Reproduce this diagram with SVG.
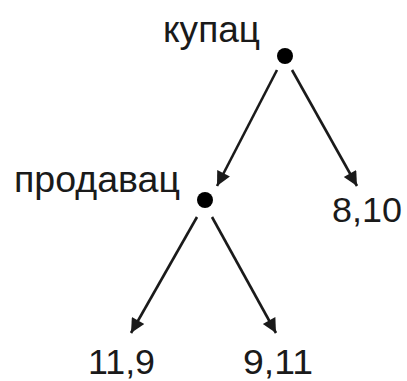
<svg xmlns="http://www.w3.org/2000/svg" width="407" height="381" viewBox="0 0 407 381">
<style>
.t{font-family:"Liberation Sans",Arial,sans-serif;font-size:37px;fill:#1a1a1a}
.n{font-size:35px}
.e{stroke:#1a1a1a;stroke-width:2.6;fill:none;marker-end:url(#ah)}
.d{fill:#000}
</style>
<defs>
<marker id="ah" viewBox="0 0 10 10" refX="10" refY="5" markerWidth="7.5" markerHeight="5.5" markerUnits="strokeWidth" orient="auto">
<path d="M0,0 L10,5 L0,10 z" fill="#1a1a1a"/>
</marker>
</defs>
<rect width="407" height="381" fill="#fff"/>
<g id="connectors">
<line class="e" x1="277" y1="70" x2="217" y2="186"/>
<line class="e" x1="292" y1="70" x2="357" y2="186"/>
<line class="e" x1="197" y1="217" x2="131" y2="333"/>
<line class="e" x1="212" y1="217" x2="276" y2="333"/>
</g>
<g id="n-kupac">
<circle class="d" cx="285" cy="56" r="8"/>
<text class="t" x="163" y="42" textLength="97" lengthAdjust="spacingAndGlyphs">купац</text>
</g>
<g id="n-prodavac">
<circle class="d" cx="205" cy="200" r="8"/>
<text class="t" x="14" y="192" textLength="166" lengthAdjust="spacingAndGlyphs">продавац</text>
</g>
<g id="n-810"><text class="t n" x="332" y="222" textLength="70" lengthAdjust="spacingAndGlyphs">8,10</text></g>
<g id="n-119"><text class="t n" x="88" y="374" textLength="67" lengthAdjust="spacingAndGlyphs">11,9</text></g>
<g id="n-911"><text class="t n" x="243" y="374" textLength="70" lengthAdjust="spacingAndGlyphs">9,11</text></g>
</svg>
